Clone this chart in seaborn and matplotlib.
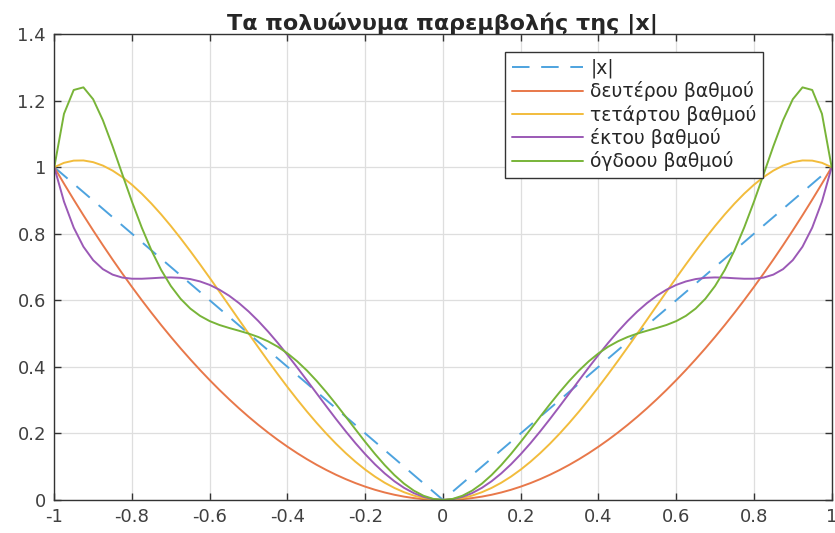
import matplotlib
matplotlib.use("Agg")
import matplotlib.pyplot as plt
import seaborn as sns
import pandas as pd

x = [-1, -0.975, -0.95, -0.925, -0.9, -0.875, -0.85, -0.825, -0.8, -0.775, -0.75, -0.725, -0.7,
     -0.675, -0.65, -0.625, -0.6, -0.575, -0.55, -0.525, -0.5, -0.475, -0.45, -0.425, -0.4,
     -0.375, -0.35, -0.325, -0.3, -0.275, -0.25, -0.225, -0.2, -0.175, -0.15, -0.125, -0.1,
     -0.075, -0.05, -0.025, 0,
     0.025, 0.05, 0.075, 0.1, 0.125, 0.15, 0.175, 0.2, 0.225, 0.25, 0.275, 0.3, 0.325, 0.35,
     0.375, 0.4, 0.425, 0.45, 0.475, 0.5, 0.525, 0.55, 0.575, 0.6, 0.625, 0.65, 0.675, 0.7,
     0.725, 0.75, 0.775, 0.8, 0.825, 0.85, 0.875, 0.9, 0.925, 0.95, 0.975, 1]

abs_x = [1, 0.975, 0.95, 0.925, 0.9, 0.875, 0.85, 0.825, 0.8, 0.775, 0.75, 0.725, 0.7,
         0.675, 0.65, 0.625, 0.6, 0.575, 0.55, 0.525, 0.5, 0.475, 0.45, 0.425, 0.4,
         0.375, 0.35, 0.325, 0.3, 0.275, 0.25, 0.225, 0.2, 0.175, 0.15, 0.125, 0.1,
         0.075, 0.05, 0.025, 0,
         0.025, 0.05, 0.075, 0.1, 0.125, 0.15, 0.175, 0.2, 0.225, 0.25, 0.275, 0.3, 0.325, 0.35,
         0.375, 0.4, 0.425, 0.45, 0.475, 0.5, 0.525, 0.55, 0.575, 0.6, 0.625, 0.65, 0.675, 0.7,
         0.725, 0.75, 0.775, 0.8, 0.825, 0.85, 0.875, 0.9, 0.925, 0.95, 0.975, 1]

deg2 = [1, 0.9506, 0.9025, 0.8556, 0.81, 0.7656, 0.7225, 0.6806, 0.64, 0.6006, 0.5625, 0.5256, 0.49,
        0.4556, 0.4225, 0.3906, 0.36, 0.3306, 0.3025, 0.2756, 0.25, 0.2256, 0.2025, 0.1806, 0.16,
        0.1406, 0.1225, 0.1056, 0.09, 0.0756, 0.0625, 0.0506, 0.04, 0.0306, 0.0225, 0.0156, 0.01,
        0.0056, 0.0025, 0.0006, 0,
        0.0006, 0.0025, 0.0056, 0.01, 0.0156, 0.0225, 0.0306, 0.04, 0.0506, 0.0625, 0.0756, 0.09,
        0.1056, 0.1225, 0.1406, 0.16, 0.1806, 0.2025, 0.2256, 0.25, 0.2756, 0.3025, 0.3306, 0.36,
        0.3906, 0.4225, 0.4556, 0.49, 0.5256, 0.5625, 0.6006, 0.64, 0.6806, 0.7225, 0.7656, 0.81,
        0.8556, 0.9025, 0.9506, 1]

deg4 = [1, 1.0132, 1.0198, 1.0203, 1.0152, 1.0049, 0.9898, 0.9705, 0.9472, 0.9205, 0.8906, 0.8581, 0.8232,
        0.7863, 0.7478, 0.7080, 0.6672, 0.6257, 0.5838, 0.5418, 0.5, 0.4586, 0.4178, 0.3780, 0.3392,
        0.3018, 0.2658, 0.2316, 0.1992, 0.1688, 0.1406, 0.1147, 0.0912, 0.0702, 0.0518, 0.0361, 0.0232,
        0.0131, 0.0058, 0.0015, 0,
        0.0015, 0.0058, 0.0131, 0.0232, 0.0361, 0.0518, 0.0702, 0.0912, 0.1147, 0.1406, 0.1688, 0.1992,
        0.2316, 0.2658, 0.3018, 0.3392, 0.3780, 0.4178, 0.4586, 0.5, 0.5418, 0.5838, 0.6257, 0.6672,
        0.7080, 0.7478, 0.7863, 0.8232, 0.8581, 0.8906, 0.9205, 0.9472, 0.9705, 0.9898, 1.0049, 1.0152,
        1.0203, 1.0198, 1.0132, 1]

deg6 = [1, 0.8966, 0.8185, 0.7611, 0.7207, 0.6937, 0.6772, 0.6683, 0.6649, 0.6648, 0.6663, 0.6681, 0.6688,
        0.6676, 0.6638, 0.6567, 0.6462, 0.6318, 0.6137, 0.5918, 0.5664, 0.5377, 0.5061, 0.4720, 0.4358,
        0.3981, 0.3594, 0.3203, 0.2813, 0.2430, 0.2059, 0.1705, 0.1375, 0.1071, 0.0799, 0.0562, 0.0363,
        0.0206, 0.0092, 0.0023, 0,
        0.0023, 0.0092, 0.0206, 0.0363, 0.0562, 0.0799, 0.1071, 0.1375, 0.1705, 0.2059, 0.2430, 0.2813,
        0.3203, 0.3594, 0.3981, 0.4358, 0.4720, 0.5061, 0.5377, 0.5664, 0.5918, 0.6137, 0.6318, 0.6462,
        0.6567, 0.6638, 0.6676, 0.6688, 0.6681, 0.6663, 0.6648, 0.6649, 0.6683, 0.6772, 0.6937, 0.7207,
        0.7611, 0.8185, 0.8966, 1]

deg8 = [1, 1.1605, 1.2321, 1.2400, 1.2043, 1.1412, 1.0630, 0.9790, 0.8961, 0.8188, 0.75, 0.6912, 0.6429,
        0.6045, 0.5751, 0.5533, 0.5374, 0.5258, 0.5168, 0.5086, 0.5, 0.4897, 0.4767, 0.4605, 0.4405,
        0.4166, 0.3889, 0.3578, 0.3238, 0.2876, 0.25, 0.2120, 0.1744, 0.1384, 0.1049, 0.0748, 0.0489,
        0.0280, 0.0126, 0.0032, 0,
        0.0032, 0.0126, 0.0280, 0.0489, 0.0748, 0.1049, 0.1384, 0.1744, 0.2120, 0.25, 0.2876, 0.3238,
        0.3578, 0.3889, 0.4166, 0.4405, 0.4605, 0.4767, 0.4897, 0.5, 0.5086, 0.5168, 0.5258, 0.5374,
        0.5533, 0.5751, 0.6045, 0.6429, 0.6912, 0.75, 0.8188, 0.8961, 0.9790, 1.0630, 1.1412, 1.2043,
        1.2400, 1.2321, 1.1605, 1]

labels = ["|x|", "δευτέρου βαθμού", "τετάρτου βαθμού", "έκτου βαθμού", "όγδοου βαθμού"]
series = [abs_x, deg2, deg4, deg6, deg8]
colors = ["#4DA3DF", "#E8784A", "#F2BC3C", "#9B59B6", "#78B438"]
title = "Τα πολυώνυμα παρεμβολής της |x|"
xticks = [-1, -0.8, -0.6, -0.4, -0.2, 0, 0.2, 0.4, 0.6, 0.8, 1]
xticklabels = ["-1", "-0.8", "-0.6", "-0.4", "-0.2", "0", "0.2", "0.4", "0.6", "0.8", "1"]
yticks = [0, 0.2, 0.4, 0.6, 0.8, 1, 1.2, 1.4]
yticklabels = ["0", "0.2", "0.4", "0.6", "0.8", "1", "1.2", "1.4"]

sns.set_theme(style="white")
plt.rcParams["font.family"] = ["DejaVu Sans"]

fig = plt.figure(figsize=(8.35, 5.33), dpi=100)
ax = fig.add_axes([0.065, 0.062, 0.931, 0.874])

for lab, ys, c in zip(labels, series, colors):
    df = pd.DataFrame({"x": x, "y": ys})
    ls = (0, (9, 6)) if lab == "|x|" else "-"
    sns.lineplot(data=df, x="x", y="y", ax=ax, color=c, linewidth=1.4,
                 linestyle=ls, label=lab, sort=False, estimator=None)

ax.set_xlim(-1, 1)
ax.set_ylim(0, 1.4)
ax.set_xticks(xticks)
ax.set_xticklabels(xticklabels)
ax.set_yticks(yticks)
ax.set_yticklabels(yticklabels)
ax.set_xlabel("")
ax.set_ylabel("")
ax.grid(True, color="#DEDEDE", linewidth=0.9)
ax.set_axisbelow(True)
ax.tick_params(direction="in", length=5, width=1, colors="#333333", labelsize=13,
               top=True, right=True, bottom=True, left=True, labelcolor="#404040", pad=6)
for s in ax.spines.values():
    s.set_color("#333333")
    s.set_linewidth(1.0)
    s.set_visible(True)
ax.set_title(title, fontsize=16, fontweight="bold", pad=3)

leg = ax.legend(loc="upper left", bbox_to_anchor=(0.58, 0.962), fontsize=13.5,
                frameon=True, fancybox=False, framealpha=1, edgecolor="#333333",
                borderpad=0.35, labelspacing=0.18, handlelength=3.8, handletextpad=0.4,
                borderaxespad=0)
leg.get_frame().set_linewidth(1.0)

fig.savefig("out.png", dpi=100)
